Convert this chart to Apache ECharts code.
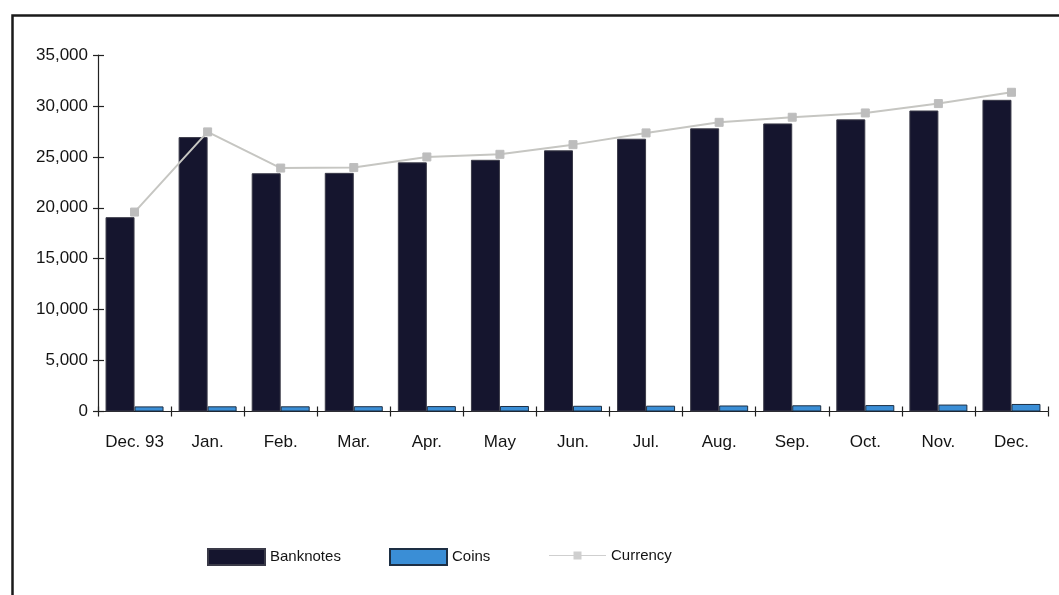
<!DOCTYPE html>
<html>
<head>
<meta charset="utf-8">
<script src="https://cdn.jsdelivr.net/npm/echarts@6/dist/echarts.min.js"></script>
<style>
html,body{margin:0;padding:0;background:#fff;}
#chart{width:1059px;height:595px;}
</style>
</head>
<body>
<div id="chart"></div>
<script>
const categories = ['Dec. 93','Jan.','Feb.','Mar.','Apr.','May','Jun.','Jul.','Aug.','Sep.','Oct.','Nov.','Dec.'];
const banknotes = [19080, 26940, 23390, 23430, 24460, 24710, 25640, 26780, 27800, 28280, 28680, 29550, 30600];
const coins = [500, 510, 510, 520, 530, 540, 560, 570, 590, 610, 630, 680, 740];
const currency = [19580, 27450, 23900, 23950, 24990, 25250, 26200, 27350, 28390, 28890, 29310, 30230, 31340];
const yTicks = {min: 0, max: 35000, interval: 5000};

const FONT = 'Liberation Sans, Arial, sans-serif';
const TXT = '#141414';
const chart = echarts.init(document.getElementById('chart'), null, {renderer: 'canvas'});

const legendBase = {
  orient: 'horizontal', top: 548, itemWidth: 57, itemHeight: 16, itemGap: 0,
  textStyle: {fontFamily: FONT, fontSize: 15, color: TXT},
  selectedMode: false, padding: 0
};

chart.setOption({
  animation: false,
  backgroundColor: '#fff',
  graphic: [{
    type: 'rect', left: 10, top: 13, z: 100, silent: true,
    shape: {x: 0, y: 0, width: 1100, height: 700},
    style: {fill: 'none', stroke: '#1a1a1a', lineWidth: 2.5}
  }],
  legend: [
    Object.assign({}, legendBase, {left: 207, data: [{name: 'Banknotes', icon: 'rect'}]}),
    Object.assign({}, legendBase, {left: 389, data: [{name: 'Coins', icon: 'rect'}]}),
    Object.assign({}, legendBase, {left: 549, data: [{name: 'Currency',
      icon: 'path://M0,7.5 L57,7.5 L57,8.5 L0,8.5 Z M24.5,4 L32.5,4 L32.5,12 L24.5,12 Z',
      itemStyle: {color: '#cfcfcf', borderWidth: 0}}]})
  ],
  grid: {left: 98, right: 11, top: 55, bottom: 183.5, containLabel: false},
  xAxis: [{
    type: 'category', data: categories, boundaryGap: true,
    axisLine: {show: true, lineStyle: {color: '#222', width: 1.2}},
    axisTick: {show: true, length: 5, alignWithLabel: false, lineStyle: {color: '#222', width: 1.2}},
    axisLabel: {fontFamily: FONT, fontSize: 17, color: TXT, margin: 22, interval: 0},
    splitLine: {show: false}
  }, {
    type: 'category', data: categories, position: 'bottom', boundaryGap: true,
    axisLine: {show: false},
    axisTick: {show: true, inside: true, length: 5, lineStyle: {color: '#222', width: 1.2}},
    axisLabel: {show: false}, splitLine: {show: false}
  }],
  yAxis: [{
    type: 'value', min: yTicks.min, max: yTicks.max, interval: yTicks.interval,
    axisLine: {show: true, lineStyle: {color: '#222', width: 1.2}},
    axisTick: {show: true, length: 5, lineStyle: {color: '#222', width: 1.2}},
    axisLabel: {fontFamily: FONT, fontSize: 17, color: TXT, margin: 10,
      formatter: v => v.toLocaleString('en-US')},
    splitLine: {show: false}
  }, {
    type: 'value', position: 'left', min: yTicks.min, max: yTicks.max, interval: yTicks.interval,
    axisLine: {show: false},
    axisTick: {show: true, inside: true, length: 6, lineStyle: {color: '#222', width: 1.2}},
    axisLabel: {show: false}, splitLine: {show: false}
  }],
  series: [{
    name: 'Banknotes', type: 'bar', data: banknotes, barWidth: 29, barGap: '0%',
    itemStyle: {color: '#15152e', borderColor: '#3a3a48', borderWidth: 1}
  }, {
    name: 'Coins', type: 'bar', data: coins, barWidth: 29, barGap: '0%',
    itemStyle: {color: '#3a8ed6', borderColor: '#1d2f44', borderWidth: 1}
  }, {
    name: 'Currency', type: 'line', data: currency,
    symbol: 'rect', symbolSize: 8, showSymbol: true,
    lineStyle: {color: '#c6c6c2', width: 2},
    itemStyle: {color: '#bdbdbd', borderColor: '#bdbdbd'},
    z: 5
  }]
});
</script>
</body>
</html>
